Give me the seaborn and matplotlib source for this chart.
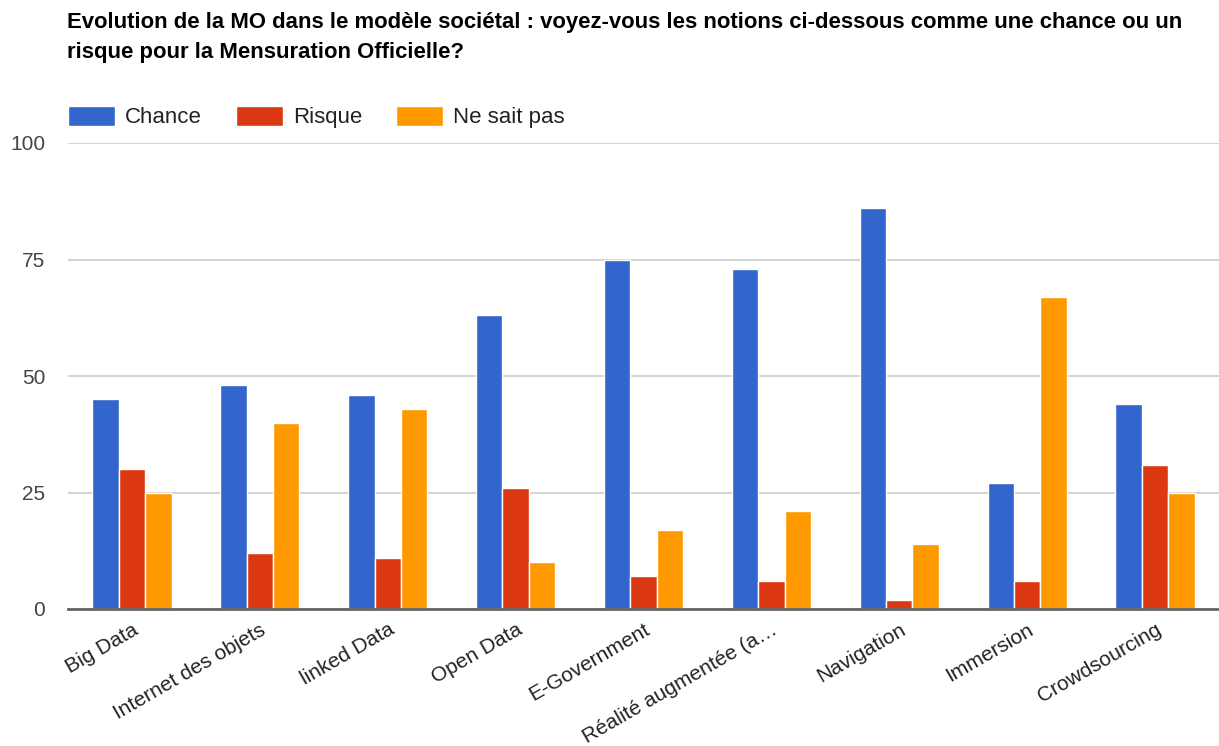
import matplotlib
matplotlib.use("Agg")
import matplotlib.pyplot as plt
import seaborn as sns
import pandas as pd

categories = ["Big Data", "Internet des objets", "linked Data", "Open Data",
              "E-Government", "Réalité augmentée (a…", "Navigation",
              "Immersion", "Crowdsourcing"]
chance = [45, 48, 46, 63, 75, 73, 86, 27, 44]
risque = [30, 12, 11, 26, 7, 6, 2, 6, 31]
ne_sait_pas = [25, 40, 43, 10, 17, 21, 14, 67, 25]
series_names = ["Chance", "Risque", "Ne sait pas"]
series_colors = ["#3366cc", "#dc3912", "#ff9900"]
y_ticks = [0, 25, 50, 75, 100]
title_lines = [
    "Evolution de la MO dans le modèle sociétal : voyez-vous les notions ci-dessous comme une chance ou un",
    "risque pour la Mensuration Officielle?",
]

rows = []
for name, vals in zip(series_names, [chance, risque, ne_sait_pas]):
    for cat, v in zip(categories, vals):
        rows.append({"categorie": cat, "serie": name, "valeur": v})
df = pd.DataFrame(rows)

sns.set_theme(style="white")
plt.rcParams["font.family"] = ["Liberation Sans", "DejaVu Sans"]

W, H = 1219, 746
fig = plt.figure(figsize=(W / 100, H / 100), dpi=100)
ax = fig.add_axes([68 / W, 1 - 609 / H, 1 - 68 / W, (609 - 143) / H])

sns.barplot(data=df, x="categorie", y="valeur", hue="serie",
            order=categories, hue_order=series_names,
            palette=series_colors, width=0.62, edgecolor="white",
            linewidth=1, saturation=1, ax=ax, legend=True)

ax.set_xlim(-0.5, len(categories) - 0.5)
ax.set_ylim(0, 100)
ax.set_yticks(y_ticks)
ax.set_yticklabels([str(t) for t in y_ticks], fontsize=15, color="#444444")
ax.yaxis.grid(True, color="#cccccc", linewidth=1.2)
ax.set_axisbelow(True)
for s in ["top", "right", "left"]:
    ax.spines[s].set_visible(False)
ax.spines["bottom"].set_color("#666666")
ax.spines["bottom"].set_linewidth(2)
ax.tick_params(axis="both", length=0)
ax.tick_params(axis="y", pad=16.5)
ax.tick_params(axis="x", pad=8)
ax.set_xlabel("")
ax.set_ylabel("")
for lab in ax.get_xticklabels():
    lab.set_rotation(30)
    lab.set_ha("right")
    lab.set_rotation_mode("anchor")
    lab.set_fontsize(15)
    lab.set_color("#222222")

handles, labels = ax.get_legend_handles_labels()
ax.get_legend().remove()
fig.legend(handles, labels, loc="center left",
           bbox_to_anchor=(68 / W, 1 - 117 / H), ncol=3, frameon=False,
           fontsize=16, handlelength=2.1, handleheight=1.0,
           handletextpad=0.45, columnspacing=1.55, borderpad=0,
           borderaxespad=0, labelcolor="#222222")

for line, base_y in zip(title_lines, [28, 58]):
    fig.text(67 / W, 1 - base_y / H, line, ha="left", va="baseline",
             fontsize=15.95, fontweight="bold", color="#000000")

fig.savefig("out.png", dpi=100)
